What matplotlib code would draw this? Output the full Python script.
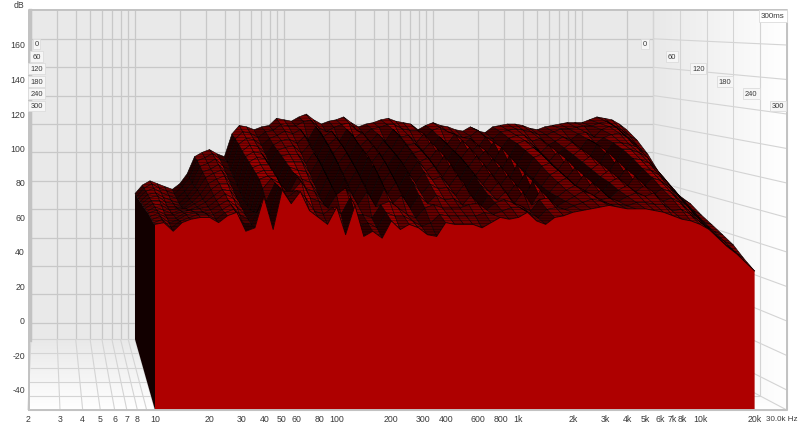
#!/usr/bin/env python
# REW style waterfall: dB over frequency and time, projected by hand onto one flat axes
import numpy as np
import matplotlib
matplotlib.use('Agg')
import matplotlib.pyplot as plt
from matplotlib.collections import PolyCollection
from matplotlib.colors import LinearSegmentedColormap
from matplotlib.patches import Polygon

# ==================== data ====================
FREQS = [10, 11.2, 12.6, 14.1, 15.8, 17.8, 20, 22.4, 25.1, 28.2, 31.6, 35.5, 39.8, 44.7, 50.1, 56.2, 63.1,
         70.8, 79.4, 89.1, 100, 112, 126, 141, 158, 178, 200, 224, 251, 282, 316, 355, 398, 447, 501, 562,
         631, 708, 794, 891, 1000, 1122, 1259, 1413, 1585, 1778, 1995, 2239, 2512, 2818, 3162, 3548, 3981,
         4467, 5012, 5623, 6310, 7079, 7943, 8913, 10000, 11220, 12589, 14125, 15849, 17783, 19953]

DB_000 = [51, 57, 60, 58, 56, 54, 58, 65, 77, 80, 82, 79, 77, 93, 99, 98, 96, 98, 99, 104,
          103, 102, 105, 107, 103, 100, 102, 103, 105, 101, 98, 100, 101, 103, 104, 102, 101, 100, 96, 99,
          101, 99, 98, 96, 95, 98, 95, 94, 98, 99, 100, 100, 99, 97, 96, 98, 99, 100, 101, 101,
          101, 103, 105, 104, 103, 100, 96]
DB_025 = [51, 57, 60, 57, 55, 53, 58, 64, 76, 78, 81, 77, 75, 91, 96, 95, 92, 96, 97, 101,
          100, 100, 103, 104, 99, 96, 99, 101, 102, 97, 94, 98, 99, 101, 101, 98, 97, 97, 92, 97,
          99, 96, 94, 92, 93, 97, 92, 91, 96, 97, 98, 97, 96, 94, 94, 96, 98, 98, 99, 100,
          100, 102, 103, 100, 97, 93, 90]
DB_050 = [52, 57, 59, 56, 54, 52, 57, 63, 74, 76, 79, 74, 71, 89, 93, 92, 88, 93, 95, 98,
          96, 99, 92, 101, 94, 98, 91, 99, 93, 97, 90, 96, 91, 99, 94, 95, 90, 96, 87, 94,
          89, 96, 88, 93, 87, 94, 87, 86, 93, 95, 95, 91, 93, 88, 91, 94, 92, 96, 97, 94,
          99, 101, 100, 95, 91, 86, 82]
DB_075 = [52, 57, 58, 55, 53, 51, 56, 62, 72, 74, 77, 71, 68, 86, 90, 89, 84, 90, 93, 94,
          91, 96, 88, 98, 90, 95, 87, 97, 89, 94, 86, 93, 87, 96, 90, 91, 86, 92, 83, 91,
          85, 93, 84, 90, 83, 92, 82, 82, 91, 93, 90, 85, 90, 83, 88, 92, 87, 94, 91, 95,
          97, 98, 95, 89, 84, 77, 72]
DB_100 = [53, 57, 58, 54, 53, 51, 56, 62, 70, 73, 75, 68, 65, 84, 87, 86, 79, 88, 90, 91,
          86, 92, 84, 94, 86, 92, 84, 93, 85, 91, 83, 90, 84, 92, 86, 88, 82, 89, 80, 88,
          83, 90, 82, 88, 80, 90, 79, 79, 88, 90, 86, 81, 87, 79, 85, 89, 83, 92, 86, 93,
          93, 92, 90, 83, 78, 69, 64]
DB_125 = [53, 57, 57, 53, 53, 52, 56, 61, 68, 71, 73, 65, 62, 82, 85, 84, 75, 86, 87, 87,
          81, 88, 80, 90, 81, 88, 79, 90, 81, 88, 79, 87, 80, 88, 82, 85, 78, 86, 76, 85,
          79, 86, 77, 84, 76, 86, 74, 76, 85, 87, 82, 77, 84, 75, 82, 86, 79, 89, 81, 90,
          90, 88, 85, 77, 72, 64, 60]
DB_150 = [54, 57, 56, 53, 54, 54, 57, 60, 66, 70, 70, 62, 59, 80, 82, 82, 71, 84, 84, 84,
          76, 85, 75, 86, 76, 84, 74, 87, 76, 84, 74, 84, 76, 84, 78, 81, 74, 82, 72, 81,
          75, 82, 73, 81, 72, 82, 70, 73, 81, 83, 78, 73, 80, 72, 79, 83, 76, 85, 77, 86,
          85, 83, 78, 71, 66, 60, 57]
DB_175 = [54, 57, 55, 53, 55, 55, 57, 60, 64, 68, 67, 60, 58, 78, 80, 80, 69, 82, 80, 79,
          71, 81, 70, 81, 71, 80, 70, 83, 72, 79, 69, 79, 72, 79, 74, 76, 70, 77, 68, 77,
          71, 78, 70, 77, 68, 78, 66, 70, 77, 80, 75, 70, 77, 69, 76, 80, 73, 81, 73, 81,
          80, 77, 72, 65, 60, 55, 52]
DB_200 = [55, 57, 54, 54, 56, 57, 58, 59, 63, 67, 64, 58, 57, 76, 78, 78, 67, 80, 76, 74,
          66, 77, 66, 76, 66, 75, 65, 78, 67, 74, 64, 74, 67, 73, 70, 71, 66, 73, 63, 72,
          68, 74, 66, 73, 64, 75, 63, 68, 74, 77, 72, 68, 74, 67, 74, 77, 71, 78, 71, 77,
          75, 71, 66, 60, 55, 50, 48]
DB_225 = [55, 57, 54, 54, 57, 58, 58, 59, 62, 65, 61, 56, 58, 72, 78, 75, 69, 79, 72, 70,
          63, 73, 62, 71, 62, 70, 61, 72, 63, 68, 60, 68, 63, 68, 65, 66, 62, 68, 60, 68,
          65, 70, 63, 70, 62, 71, 62, 67, 71, 74, 71, 67, 71, 66, 71, 74, 70, 74, 68, 72,
          70, 65, 61, 55, 50, 46, 44]
DB_250 = [55, 57, 53, 55, 58, 59, 59, 58, 61, 64, 58, 55, 60, 66, 77, 72, 72, 78, 68, 66,
          62, 70, 74, 58, 58, 56, 64, 66, 62, 58, 56, 62, 64, 62, 62, 62, 64, 65, 61, 65,
          67, 65, 63, 60, 67, 68, 63, 66, 69, 72, 70, 67, 68, 66, 69, 71, 69, 71, 66, 68,
          65, 60, 56, 50, 46, 42, 40]
DB_275 = [55, 57, 52, 56, 58, 60, 60, 57, 61, 63, 55, 54, 66, 60, 76, 70, 74, 70, 62, 60,
          64, 60, 70, 53, 55, 52, 61, 59, 59, 56, 53, 55, 60, 59, 59, 59, 59, 61, 60, 62,
          64, 64, 61, 58, 63, 64, 63, 65, 67, 69, 68, 66, 66, 65, 67, 67, 66, 66, 62, 63,
          60, 56, 52, 46, 42, 38, 34]
DB_300 = [56, 57, 52, 57, 59, 60, 60, 57, 61, 63, 52, 54, 72, 53, 76, 68, 75, 64, 60, 56,
          66, 50, 67, 49, 52, 48, 58, 53, 56, 54, 50, 49, 57, 56, 56, 56, 54, 57, 60, 59,
          60, 63, 58, 56, 60, 61, 63, 64, 65, 66, 67, 66, 65, 65, 65, 64, 63, 61, 59, 58,
          56, 53, 48, 43, 39, 34, 29]

SLICE_TIMES = [0, 25, 50, 75, 100, 125, 150, 175, 200, 225, 250, 275, 300]
SLICES = [DB_000, DB_025, DB_050, DB_075, DB_100, DB_125, DB_150, DB_175, DB_200, DB_225, DB_250, DB_275, DB_300]

GRID_FREQS = [2, 3, 4, 5, 6, 7, 8, 9, 10, 20, 30, 40, 50, 60, 70, 80, 90, 100, 200, 300, 400, 500, 600, 700, 800,
              900, 1000, 2000, 3000, 4000, 5000, 6000, 7000, 8000, 9000, 10000, 20000, 30000]
FREQ_TICKS = [2, 3, 4, 5, 6, 7, 8, 10, 20, 30, 40, 50, 60, 80, 100, 200, 300, 400, 600, 800, 1000, 2000, 3000,
              4000, 5000, 6000, 7000, 8000, 10000, 20000, 30000]
FREQ_LABELS = ['2', '3', '4', '5', '6', '7', '8', '10', '20', '30', '40', '50', '60', '80', '100', '200', '300',
               '400', '600', '800', '1k', '2k', '3k', '4k', '5k', '6k', '7k', '8k', '10k', '20k', '30.0k Hz']
DB_TICKS = [-40, -20, 0, 20, 40, 60, 80, 100, 120, 140, 160]
TIME_TICKS = [0, 60, 120, 180, 240, 300]

# ==================== projection ====================
DB_FLOOR = -51.6
DB_TOP = 180
F_MIN, F_MAX = 2, 30000


def project(freq, db, t):
    """(Hz, dB, ms) -> pixel position of the picture"""
    L = np.log10(np.asarray(freq, dtype=float) / 10)
    u = np.asarray(t, dtype=float) / 300
    db = np.asarray(db, dtype=float)
    x_back, x_front = 135 + 149 * L, 155 + 181.7 * L
    y_back, y_front = 267 - 1.42 * db, 322 - 1.725 * db
    return x_back + (x_front - x_back) * u, y_back + (y_front - y_back) * u


def corners(*points):
    return np.column_stack([np.array(project(*p), dtype=float) for p in points]).T


plt.rcParams['font.family'] = ['Liberation Sans', 'DejaVu Sans']
plt.rcParams['hatch.linewidth'] = 0.3

fig = plt.figure(figsize=(8, 4.27), dpi=100)
ax = fig.add_axes([0, 0, 1, 1])
ax.axis('off')

# ==================== walls ====================
back = corners((F_MIN, DB_TOP, 0), (F_MAX, DB_TOP, 0), (F_MAX, DB_FLOOR, 0), (F_MIN, DB_FLOOR, 0))
floor = corners((F_MIN, DB_FLOOR, 0), (F_MAX, DB_FLOOR, 0), (F_MAX, DB_FLOOR, 300), (F_MIN, DB_FLOOR, 300))
right = corners((F_MAX, DB_TOP, 0), (F_MAX, DB_TOP, 300), (F_MAX, DB_FLOOR, 300), (F_MAX, DB_FLOOR, 0))
ax.add_patch(Polygon(back, closed=True, fc='#e9e9e9', ec='none', zorder=1))

shade = LinearSegmentedColormap.from_list('wall', ['#e9e9e9', '#ffffff'])
im = ax.imshow(np.linspace(0, 1, 64).reshape(-1, 1), cmap=shade, aspect='auto', zorder=1,
               extent=(floor[:, 0].min(), floor[:, 0].max(), floor[:, 1].max(), floor[:, 1].min()))
im.set_clip_path(Polygon(floor, closed=True, transform=ax.transData))
im = ax.imshow(np.linspace(0, 1, 64).reshape(1, -1), cmap=shade, aspect='auto', zorder=1,
               extent=(right[:, 0].min(), right[:, 0].max(), right[:, 1].max(), right[:, 1].min()))
im.set_clip_path(Polygon(right, closed=True, transform=ax.transData))
ax.set_xlim(0, 800)
ax.set_ylim(427, 0)

GRID = dict(color='#c8c8c8', lw=0.9, zorder=2, solid_capstyle='butt')
FAINT = dict(color='#d4d4d4', lw=0.8, zorder=2, solid_capstyle='butt')
for f in GRID_FREQS:
    ax.plot(*project([f, f], [DB_FLOOR, DB_TOP], [0, 0]), **GRID)
    ax.plot(*project([f, f], [DB_FLOOR, DB_FLOOR], [0, 300]), **FAINT)
for db in DB_TICKS:
    ax.plot(*project([F_MIN, F_MAX], [db, db], [0, 0]), **GRID)
    ax.plot(*project([F_MAX, F_MAX], [db, db], [0, 300]), **FAINT)
for t in TIME_TICKS:
    ax.plot(*project([F_MIN, F_MAX], [DB_FLOOR, DB_FLOOR], [t, t]), **FAINT)
    ax.plot(*project([F_MAX, F_MAX], [DB_FLOOR, DB_TOP], [t, t]), **FAINT)

# ==================== surface ====================
db_grid = np.array(SLICES, dtype=float)
freqs = np.array(FREQS, dtype=float)

# black side at 10 Hz, drawn under the mesh
x_side, y_side = project(np.full(len(SLICE_TIMES), freqs[0]), db_grid[:, 0], SLICE_TIMES)
x_base, y_base = project([freqs[0], freqs[0]], [DB_FLOOR, DB_FLOOR], [300, 0])
ax.fill(np.r_[x_side, x_base], np.r_[y_side, y_base], color='#120000', lw=0, zorder=3)

for i in range(len(SLICE_TIMES) - 1):
    x0, y0 = project(freqs, db_grid[i], SLICE_TIMES[i])
    x1, y1 = project(freqs, db_grid[i + 1], SLICE_TIMES[i + 1])
    mean = (db_grid[i] + db_grid[i + 1]) / 2
    quads, colors = [], []
    for j in range(len(freqs) - 1):
        quads.append([(x0[j], y0[j]), (x0[j + 1], y0[j + 1]), (x1[j + 1], y1[j + 1]), (x1[j], y1[j])])
        # quads facing away from the light go darker, valleys too
        slope = mean[j + 1] - mean[j]
        left, right_ = mean[max(j - 1, 0)], mean[min(j + 2, len(freqs) - 1)]
        valley = left + right_ - mean[j] - mean[j + 1]
        r = np.clip(0.43 - 0.028 * slope - 0.012 * valley, 0.14, 0.66)
        colors.append((r, 0.0, 0.0))
    pc = PolyCollection(quads, facecolors=colors, edgecolors='#050000', linewidths=0.4, hatch='------', zorder=4)
    ax.add_collection(pc)

# front face
x_f, y_f = project(freqs, db_grid[-1], 300)
x_fb, y_fb = project([freqs[-1], freqs[0]], [DB_FLOOR, DB_FLOOR], [300, 300])
ax.fill(np.r_[x_f, x_fb], np.r_[y_f, y_fb], color='#ae0000', lw=0, zorder=5)
ax.plot(x_f, y_f, color='#1a0000', lw=0.6, zorder=6)

# ==================== frame & text ====================
ax.plot([29, 787, 787, 29, 29], [411, 411, 11, 11, 411], color='#c2c2c2', lw=1.4, zorder=7)
ax.plot([29.5, 29.5], [11, 341], color='#c2c2c2', lw=2.4, zorder=7)

TXT = dict(fontsize=6.3, color='#3a3a3a', zorder=9)
for f, lab in zip(FREQ_TICKS, FREQ_LABELS):
    x_tick = project(f, DB_FLOOR, 300)[0]
    if lab.endswith('Hz'):
        ax.text(798, 419.5, lab, ha='right', va='center', fontsize=5.8, color='#3a3a3a', zorder=9)
    else:
        ax.text(x_tick, 419.5, lab, ha='center', va='center', **TXT)
for db in DB_TICKS:
    ax.text(25, project(10, db, 300)[1], str(db), ha='right', va='center', **TXT)
ax.text(24, 5, 'dB', ha='right', va='center', **TXT)

BOX = dict(boxstyle='square,pad=0.25', fc='#f6f6f6', ec='#dcdcdc', lw=0.6)
for t in TIME_TICKS:
    u = t / 300
    ax.text(36.5, 45 + 62 * u, str(t), ha='center', va='center', fontsize=5.4, color='#3a3a3a', bbox=BOX, zorder=9)
    ax.text(645 + 133 * u, 45 + 62 * u, str(t), ha='center', va='center', fontsize=5.4, color='#3a3a3a', bbox=BOX, zorder=9)
ax.text(773, 17, '300ms', ha='center', va='center', fontsize=5.8, color='#3a3a3a', zorder=9,
        bbox=dict(boxstyle='square,pad=0.25', fc='#ffffff', ec='#dcdcdc', lw=0.6))

fig.savefig('out.png', dpi=100)
